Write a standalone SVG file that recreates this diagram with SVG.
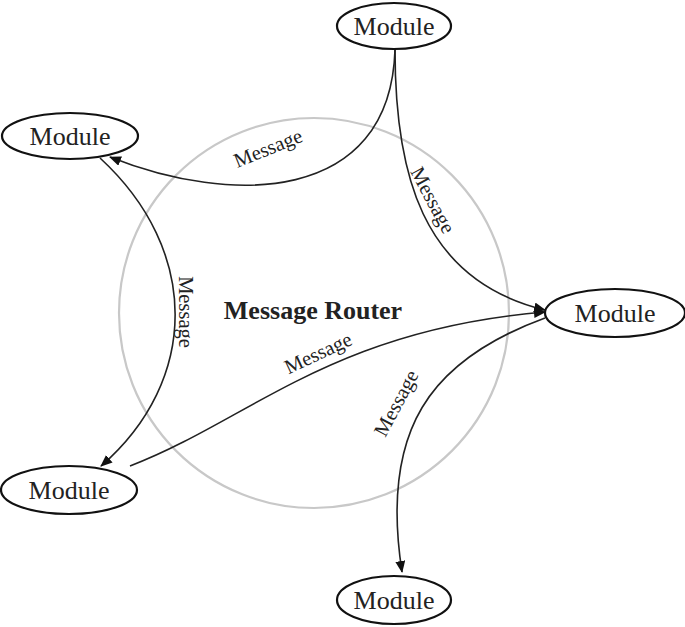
<svg xmlns="http://www.w3.org/2000/svg" width="685" height="627" viewBox="0 0 685 627">
<style>
.node{fill:#fff;stroke:#111;stroke-width:2.2}
.nt{font-family:"Liberation Serif",serif;font-size:26px;fill:#222;text-anchor:middle;dominant-baseline:central}
.lbl{font-family:"Liberation Serif",serif;font-size:20.5px;fill:#222;text-anchor:middle;dominant-baseline:central}
.edge{fill:none;stroke:#222;stroke-width:1.6}
</style>
<defs>
<marker id="ah" viewBox="0 0 12 10" refX="11" refY="5" markerWidth="12" markerHeight="10" markerUnits="userSpaceOnUse" orient="auto">
<path d="M0,0 L12,5 L0,10 z" fill="#111"/>
</marker>
</defs>
<g id="router">
<circle cx="314" cy="313" r="195" fill="none" stroke="#c8c8c8" stroke-width="2.2"/>
<text x="313" y="310" class="nt" style="font-weight:bold">Message Router</text>
</g>
<g id="connectors">
<path class="edge" d="M395,50 C390,205 230,205 110,157" marker-end="url(#ah)"/>
<path class="edge" d="M395,50 C395,170 420,280 545,310" marker-end="url(#ah)"/>
<path class="edge" d="M100,158 C200,250 200,380 101,466" marker-end="url(#ah)"/>
<path class="edge" d="M130,466 C250,420 330,330 545,312" marker-end="url(#ah)"/>
<path class="edge" d="M545,318 C430,360 380,430 402,572" marker-end="url(#ah)"/>
<text class="lbl" transform="translate(268,148) rotate(-22)">Message</text>
<text class="lbl" transform="translate(433,200) rotate(62)">Message</text>
<text class="lbl" transform="translate(186,312) rotate(90)">Message</text>
<text class="lbl" transform="translate(318,353) rotate(-25)">Message</text>
<text class="lbl" transform="translate(396,403) rotate(-62)">Message</text>
</g>
<g id="m-top"><ellipse class="node" cx="394" cy="26" rx="57" ry="23"/><text class="nt" x="394" y="26">Module</text></g>
<g id="m-left"><ellipse class="node" cx="70" cy="136" rx="68" ry="23"/><text class="nt" x="70" y="136">Module</text></g>
<g id="m-right"><ellipse class="node" cx="615" cy="313" rx="70" ry="24"/><text class="nt" x="615" y="313">Module</text></g>
<g id="m-bl"><ellipse class="node" cx="69" cy="490" rx="68" ry="24"/><text class="nt" x="69" y="490">Module</text></g>
<g id="m-bottom"><ellipse class="node" cx="394" cy="600" rx="57" ry="24"/><text class="nt" x="394" y="600">Module</text></g>
</svg>
